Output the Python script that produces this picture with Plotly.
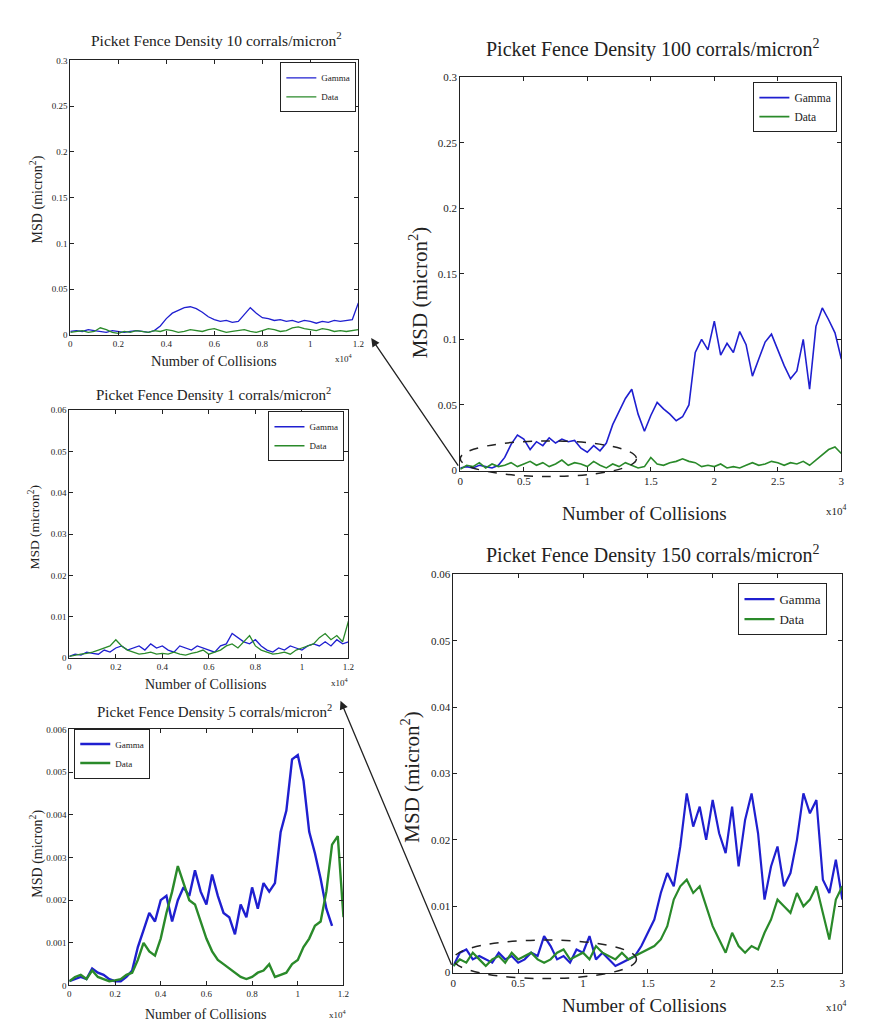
import plotly.graph_objects as go

W, H = 880, 1033
FONT = "Liberation Serif"
BLUE = "#1f1fd0"
GREEN = "#2a8a2a"
INK = "#222222"

# ---------------- data ----------------
# right-hand panels: number of collisions, 0 .. 30000
right_x = [0, 500, 1000, 1500, 2000, 2500, 3000, 3500, 4000, 4500,
           5000, 5500, 6000, 6500, 7000, 7500, 8000, 8500, 9000, 9500,
           10000, 10500, 11000, 11500, 12000, 12500, 13000, 13500, 14000, 14500,
           15000, 15500, 16000, 16500, 17000, 17500, 18000, 18500, 19000, 19500,
           20000, 20500, 21000, 21500, 22000, 22500, 23000, 23500, 24000, 24500,
           25000, 25500, 26000, 26500, 27000, 27500, 28000, 28500, 29000, 29500,
           30000]

tr_gamma = [0.002, 0.003, 0.002, 0.004, 0.003, 0.002, 0.004, 0.010, 0.020, 0.027,
            0.024, 0.016, 0.022, 0.019, 0.025, 0.021, 0.024, 0.022, 0.023, 0.017,
            0.014, 0.019, 0.015, 0.021, 0.035, 0.045, 0.055, 0.062, 0.043, 0.030,
            0.042, 0.052, 0.047, 0.043, 0.038, 0.041, 0.050, 0.090, 0.100, 0.092,
            0.114, 0.088, 0.097, 0.090, 0.106, 0.096, 0.072, 0.085, 0.098, 0.104,
            0.092, 0.080, 0.070, 0.076, 0.100, 0.062, 0.110, 0.124, 0.115, 0.105,
            0.085]
tr_data = [0.001, 0.004, 0.003, 0.006, 0.002, 0.005, 0.003, 0.004, 0.006, 0.003,
           0.005, 0.007, 0.004, 0.006, 0.003, 0.005, 0.008, 0.004, 0.006, 0.005,
           0.003, 0.007, 0.004, 0.002, 0.005, 0.003, 0.006, 0.004, 0.002, 0.003,
           0.010, 0.005, 0.004, 0.006, 0.007, 0.009, 0.007, 0.006, 0.003, 0.004,
           0.003, 0.005, 0.002, 0.003, 0.002, 0.004, 0.006, 0.004, 0.005, 0.007,
           0.006, 0.004, 0.006, 0.005, 0.007, 0.004, 0.008, 0.012, 0.016, 0.018,
           0.013]

br_gamma = [0.001, 0.003, 0.0035, 0.002, 0.0025, 0.002, 0.0015, 0.003, 0.002, 0.0025,
            0.0015, 0.002, 0.003, 0.0025, 0.0055, 0.004, 0.002, 0.0025, 0.0015, 0.0035,
            0.003, 0.0055, 0.002, 0.003, 0.002, 0.001, 0.0015, 0.002, 0.0025, 0.004,
            0.006, 0.008, 0.012, 0.015, 0.013, 0.019, 0.027, 0.022, 0.025, 0.020,
            0.026, 0.021, 0.018, 0.025, 0.016, 0.023, 0.027, 0.021, 0.011, 0.016,
            0.019, 0.013, 0.015, 0.020, 0.027, 0.024, 0.026, 0.014, 0.012, 0.017,
            0.011]
br_data = [0.001, 0.002, 0.0015, 0.003, 0.002, 0.001, 0.002, 0.0025, 0.0015, 0.003,
           0.002, 0.0025, 0.003, 0.002, 0.0015, 0.002, 0.003, 0.0035, 0.002, 0.0025,
           0.003, 0.002, 0.004, 0.003, 0.0025, 0.002, 0.003, 0.002, 0.0025, 0.003,
           0.0035, 0.004, 0.005, 0.007, 0.011, 0.013, 0.014, 0.012, 0.013, 0.010,
           0.007, 0.005, 0.003, 0.006, 0.004, 0.003, 0.004, 0.0035, 0.006, 0.008,
           0.011, 0.010, 0.009, 0.012, 0.010, 0.011, 0.013, 0.009, 0.005, 0.011,
           0.013]

# left-hand panels: number of collisions, 0 .. 12000
left_x = [0, 250, 500, 750, 1000, 1250, 1500, 1750, 2000, 2250,
          2500, 2750, 3000, 3250, 3500, 3750, 4000, 4250, 4500, 4750,
          5000, 5250, 5500, 5750, 6000, 6250, 6500, 6750, 7000, 7250,
          7500, 7750, 8000, 8250, 8500, 8750, 9000, 9250, 9500, 9750,
          10000, 10250, 10500, 10750, 11000, 11250, 11500, 11750, 12000]

tl_gamma = [0.004, 0.005, 0.004, 0.006, 0.005, 0.004, 0.003, 0.005, 0.004, 0.003,
            0.004, 0.005, 0.004, 0.003, 0.005, 0.010, 0.018, 0.024, 0.027, 0.030,
            0.031, 0.029, 0.025, 0.020, 0.017, 0.015, 0.016, 0.014, 0.015, 0.022,
            0.030, 0.024, 0.019, 0.018, 0.016, 0.017, 0.015, 0.016, 0.014, 0.016,
            0.015, 0.013, 0.015, 0.014, 0.016, 0.015, 0.016, 0.017, 0.035]
tl_data = [0.003, 0.004, 0.005, 0.003, 0.004, 0.008, 0.006, 0.003, 0.002, 0.004,
           0.003, 0.005, 0.004, 0.003, 0.005, 0.004, 0.006, 0.005, 0.003, 0.004,
           0.006, 0.005, 0.004, 0.006, 0.007, 0.005, 0.003, 0.004, 0.005, 0.006,
           0.004, 0.003, 0.005, 0.007, 0.006, 0.004, 0.005, 0.008, 0.009, 0.007,
           0.006, 0.005, 0.007, 0.006, 0.004, 0.005, 0.004, 0.005, 0.006]

# middle-left panel, MSD in units of 1e-2 micron^2
ml_gamma = [0.05, 0.1, 0.08, 0.15, 0.12, 0.1, 0.2, 0.15, 0.25, 0.3,
            0.2, 0.25, 0.3, 0.2, 0.35, 0.25, 0.3, 0.2, 0.15, 0.3,
            0.25, 0.2, 0.3, 0.25, 0.2, 0.15, 0.3, 0.35, 0.6, 0.5,
            0.4, 0.35, 0.45, 0.3, 0.2, 0.15, 0.25, 0.2, 0.3, 0.25,
            0.2, 0.3, 0.35, 0.3, 0.4, 0.3, 0.45, 0.35, 0.4]
ml_data = [0.05, 0.08, 0.1, 0.12, 0.15, 0.2, 0.25, 0.3, 0.45, 0.3,
           0.2, 0.15, 0.1, 0.12, 0.15, 0.1, 0.12, 0.1, 0.15, 0.1,
           0.08, 0.12, 0.15, 0.2, 0.1, 0.15, 0.2, 0.3, 0.35, 0.25,
           0.4, 0.55, 0.3, 0.2, 0.15, 0.1, 0.12, 0.15, 0.1, 0.2,
           0.25, 0.3, 0.35, 0.5, 0.6, 0.45, 0.55, 0.4, 0.9]

# bottom-left panel, MSD in units of 1e-3 micron^2
bl_gamma = [0.1, 0.15, 0.2, 0.15, 0.4, 0.3, 0.25, 0.15, 0.1, 0.1,
            0.2, 0.35, 0.9, 1.3, 1.7, 1.5, 2.0, 2.1, 1.5, 2.0,
            2.3, 2.1, 2.7, 2.2, 1.9, 2.6, 2.1, 1.7, 1.6, 1.2,
            1.9, 1.6, 2.3, 1.8, 2.4, 2.2, 2.4, 3.6, 4.1, 5.3,
            5.4, 4.8, 3.6, 3.1, 2.5, 1.8, 1.4]
bl_data = [0.1, 0.2, 0.25, 0.15, 0.35, 0.2, 0.15, 0.1, 0.12, 0.15,
           0.25, 0.3, 0.6, 1.0, 0.8, 0.7, 1.1, 1.7, 2.2, 2.8,
           2.4, 2.0, 1.9, 1.5, 1.1, 0.8, 0.6, 0.5, 0.4, 0.3,
           0.2, 0.15, 0.2, 0.3, 0.35, 0.5, 0.2, 0.25, 0.3, 0.5,
           0.6, 0.9, 1.1, 1.4, 1.5, 2.2, 3.3, 3.5, 1.6]

# tick labels
right_xticks = [0, 5000, 10000, 15000, 20000, 25000, 30000]
right_xtext = ["0", "0.5", "1", "1.5", "2", "2.5", "3"]
left_xticks = [0, 2000, 4000, 6000, 8000, 10000, 12000]
left_xtext = ["0", "0.2", "0.4", "0.6", "0.8", "1", "1.2"]
top_yticks = [0, 0.05, 0.1, 0.15, 0.2, 0.25, 0.3]
top_ytext = ["0", "0.05", "0.1", "0.15", "0.2", "0.25", "0.3"]
br_yticks = [0, 0.01, 0.02, 0.03, 0.04, 0.05, 0.06]
br_ytext = ["0", "0.01", "0.02", "0.03", "0.04", "0.05", "0.06"]
ml_yticks = [0, 1, 2, 3, 4, 5, 6]
ml_ytext = ["0", "0.01", "0.02", "0.03", "0.04", "0.05", "0.06"]
bl_yticks = [0, 1, 2, 3, 4, 5, 6]
bl_ytext = ["0", "0.001", "0.002", "0.003", "0.004", "0.005", "0.006"]

series_names = ["Gamma", "Data"]

titles = {
    "TL": "Picket Fence Density 10 corrals/micron<sup>2</sup>",
    "TR": "Picket Fence Density 100 corrals/micron<sup>2</sup>",
    "ML": "Picket Fence Density 1 corrals/micron<sup>2</sup>",
    "BL": "Picket Fence Density 5 corrals/micron<sup>2</sup>",
    "BR": "Picket Fence Density 150 corrals/micron<sup>2</sup>",
}

# ---------------- layout helpers ----------------
def px(x):
    return x / W

def py(y):
    return 1 - y / H

panels = [
    dict(key="TL", ax="", box=(68, 359, 55, 333), x=left_x, g=tl_gamma, d=tl_data,
         xt=(left_xticks, left_xtext), yt=(top_yticks, top_ytext), xr=[0, 12000], yr=[0, 0.3],
         tick=9, tsize=15.5, lsize=14.5, ysize=14, lw=1.3, leg=dict(x=357, y=57, xa="right"),
         lfont=9, title_pos=(216, 33), xl_pos=(213, 359), yl_pos=(34, 196), exp_pos=(345, 356)),
    dict(key="TR", ax="2", box=(462, 847, 72, 470), x=right_x, g=tr_gamma, d=tr_data,
         xt=(right_xticks, right_xtext), yt=(top_yticks, top_ytext), xr=[0, 30000], yr=[0, 0.3],
         tick=11, tsize=20, lsize=19, ysize=21, lw=1.6, leg=dict(x=843, y=77, xa="right"),
         lfont=11.5, title_pos=(657, 43), xl_pos=(648, 513), yl_pos=(420, 290), exp_pos=(842, 510)),
    dict(key="ML", ax="3", box=(67, 349, 409, 660), x=left_x, g=ml_gamma, d=ml_data,
         xt=(left_xticks, left_xtext), yt=(ml_yticks, ml_ytext), xr=[0, 12000], yr=[0, 6],
         tick=9, tsize=15, lsize=14, ysize=13.5, lw=1.3, leg=dict(x=345, y=410, xa="right"),
         lfont=9, title_pos=(213, 393), xl_pos=(205, 686), yl_pos=(32, 527), exp_pos=(340, 684)),
    dict(key="BL", ax="4", box=(67, 344, 732, 991), x=left_x, g=bl_gamma, d=bl_data,
         xt=(left_xticks, left_xtext), yt=(bl_yticks, bl_ytext), xr=[0, 12000], yr=[0, 6],
         tick=9, tsize=15, lsize=14, ysize=14, lw=2.4, leg=dict(x=72, y=731, xa="left"),
         lfont=9, title_pos=(214, 713), xl_pos=(205, 1020), yl_pos=(33, 858), exp_pos=(338, 1020)),
    dict(key="BR", ax="5", box=(455, 848, 575, 978), x=right_x, g=br_gamma, d=br_data,
         xt=(right_xticks, right_xtext), yt=(br_yticks, br_ytext), xr=[0, 30000], yr=[0, 0.06],
         tick=11, tsize=20, lsize=19, ysize=21, lw=2.2, leg=dict(x=833, y=584, xa="right"),
         lfont=13, title_pos=(657, 555), xl_pos=(648, 1011), yl_pos=(412, 780), exp_pos=(842, 1012)),
]

fig = go.Figure()
layout = dict(width=W, height=H, margin=dict(l=0, r=0, t=0, b=0), autosize=False,
              paper_bgcolor="white", plot_bgcolor="white",
              font=dict(family=FONT, color=INK), showlegend=True)
annotations = []
shapes = []

for i, p in enumerate(panels):
    x0, x1, y0, y1 = p["box"]
    ax = p["ax"]
    legname = "legend" if i == 0 else f"legend{i + 1}"
    axis_style = dict(showline=True, linecolor=INK, linewidth=1, mirror="ticks",
                      ticks="inside", ticklen=4, tickcolor=INK, showgrid=False,
                      zeroline=False, tickfont=dict(size=p["tick"], family=FONT, color=INK))
    layout[f"xaxis{ax}"] = dict(axis_style, domain=[px(x0), px(x1)], range=p["xr"],
                                tickvals=p["xt"][0], ticktext=p["xt"][1],
                                anchor=f"y{ax}")
    layout[f"yaxis{ax}"] = dict(axis_style, domain=[py(y1), py(y0)], range=p["yr"],
                                tickvals=p["yt"][0], ticktext=p["yt"][1],
                                anchor=f"x{ax}")
    for name, ys, col in ((series_names[0], p["g"], BLUE), (series_names[1], p["d"], GREEN)):
        fig.add_trace(go.Scatter(x=p["x"][:len(ys)], y=ys, mode="lines", name=name,
                                 line=dict(color=col, width=p["lw"]),
                                 xaxis=f"x{ax}", yaxis=f"y{ax}", legend=legname))
    lg = p["leg"]
    layout[legname] = dict(x=px(lg["x"]), y=py(lg["y"]), xanchor=lg["xa"], yanchor="top",
                           bgcolor="white", bordercolor=INK, borderwidth=1,
                           font=dict(size=p["lfont"], family=FONT, color=INK),
                           tracegroupgap=0, itemwidth=30)
    tx, ty = p["title_pos"]
    annotations.append(dict(text=titles[p["key"]], x=px(tx), y=py(ty), xref="paper", yref="paper",
                            showarrow=False, xanchor="center", yanchor="middle",
                            font=dict(size=p["tsize"], family=FONT, color=INK)))
    lx, ly = p["xl_pos"]
    annotations.append(dict(text="Number of Collisions", x=px(lx), y=py(ly), xref="paper",
                            yref="paper", showarrow=False, xanchor="center", yanchor="middle",
                            font=dict(size=p["lsize"], family=FONT, color=INK)))
    yx, yy = p["yl_pos"]
    annotations.append(dict(text="MSD (micron<sup>2</sup>)", x=px(yx), y=py(yy), xref="paper",
                            yref="paper", showarrow=False, textangle=-90, xanchor="center",
                            yanchor="middle",
                            font=dict(size=p["ysize"], family=FONT, color=INK)))
    ex, ey = p["exp_pos"]
    annotations.append(dict(text="x10<sup>4</sup>", x=px(ex), y=py(ey), xref="paper",
                            yref="paper", showarrow=False, xanchor="center", yanchor="middle",
                            font=dict(size=p["tick"], family=FONT, color=INK)))

# dashed ellipses marking zoomed regions
for (ex0, ex1, ey0, ey1) in [(462, 640, 440, 476), (455, 640, 945, 984)]:
    shapes.append(dict(type="circle", xref="paper", yref="paper",
                       x0=px(ex0), x1=px(ex1), y0=py(ey1), y1=py(ey0),
                       line=dict(color=INK, width=1.5, dash="dash")))

# connector arrows
for (hx, hy, tx, ty) in [(372, 336, 462, 468), (341, 703, 455, 974)]:
    annotations.append(dict(x=px(hx), y=py(hy), xref="paper", yref="paper",
                            ax=tx - hx, ay=ty - hy, axref="pixel", ayref="pixel",
                            showarrow=True, arrowhead=2, arrowsize=1.3, arrowwidth=1.3,
                            arrowcolor=INK, text=" "))

layout["annotations"] = annotations
layout["shapes"] = shapes
fig.update_layout(**layout)
fig.write_html("out.html")
